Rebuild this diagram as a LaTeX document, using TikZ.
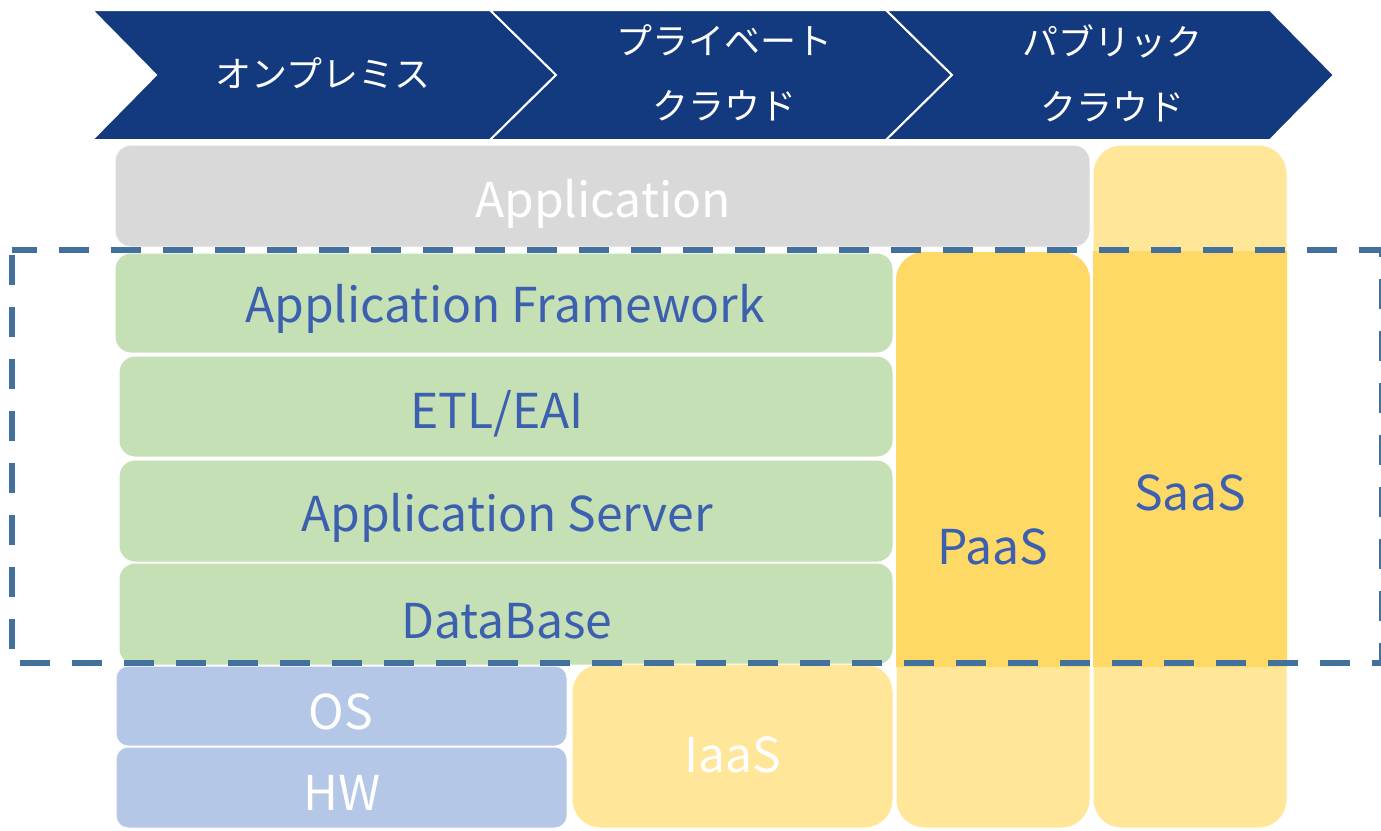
\documentclass[tikz,border=0pt]{standalone}
\usepackage{fontspec}
\setmainfont{Noto Sans CJK JP}
\definecolor{navy}{RGB}{19,57,126}
\definecolor{graybox}{RGB}{217,217,217}
\definecolor{greenbox}{RGB}{197,224,180}
\definecolor{bluebox}{RGB}{180,199,231}
\definecolor{ylight}{RGB}{255,230,153}
\definecolor{ydark}{RGB}{255,217,102}
\definecolor{dashc}{RGB}{65,113,156}
\definecolor{txtblue}{RGB}{60,96,175}
\tikzset{
  chev/.style={fill=navy, draw=white, line width=2pt, line join=miter},
  chevtext/.style={text=white, font=\fontsize{36}{65}\selectfont, align=center, inner sep=0pt},
  lay/.style={rounded corners=#1, inner sep=0pt, draw=white, line width=1pt},
  big/.style={font=\fontsize{48}{58}\selectfont},
  green layer/.style={lay=16, fill=greenbox},
  blue layer/.style={lay=12, fill=bluebox},
  labelblue/.style={text=txtblue, big, inner sep=0pt},
  labelwhite/.style={text=white, big, inner sep=0pt},
  boundary/.style={draw=dashc, line width=6pt, dash pattern=on 30pt off 22pt, dash phase=-5pt}
}
\begin{document}
\begin{tikzpicture}[x=1pt,y=-1pt]
\useasboundingbox (0,0) rectangle (1381,830);
% chevrons
\path[chev] (92,10) -- (490,10) -- (556,75) -- (490,140) -- (92,140) -- (156,75) -- cycle;
\path[chev] (490,10) -- (886,10) -- (952,75) -- (886,140) -- (490,140) -- (556,75) -- cycle;
\path[chev] (886,10) -- (1270,10) -- (1334,75) -- (1270,140) -- (886,140) -- (952,75) -- cycle;
\node[chevtext] (onp) at (323,73) {オンプレミス};
\node[chevtext] (prv) at (724,73) {プライベート\\クラウド};
\node[chevtext] (pub) at (1112,73) {パブリック\\クラウド};
% application
\node[lay=16, fill=graybox, minimum width=975pt, minimum height=102pt] (app) at (602.5,196) {};
\node[labelwhite] (appt) at (603,204) {Application};
% SaaS and PaaS columns
\node[lay=28, fill=ylight, minimum width=194pt, minimum height=683pt] (saas) at (1190,486.5) {};
\node[lay=28, fill=ylight, minimum width=194pt, minimum height=576pt] (paas) at (993,540) {};
\begin{scope}
  \clip (0,251) rectangle (1381,666);
  \fill[ydark, rounded corners=28] (1093,145) rectangle (1287,828);
  \fill[ydark, rounded corners=28] (896,252) rectangle (1090,828);
\end{scope}
\node[labelblue] (saast) at (1190,493) {SaaS};
\node[labelblue] (paast) at (993,547) {PaaS};
% green layers
\node[green layer, minimum width=778pt, minimum height=100pt] (af) at (504,303) {};
\node[green layer, minimum width=774pt, minimum height=101pt] (etl) at (506,406.5) {};
\node[green layer, minimum width=774pt, minimum height=102pt] (as) at (506,511) {};
\node[green layer, minimum width=774pt, minimum height=102pt] (db) at (506,614) {};
\node[labelblue] (aft) at (505,309) {Application Framework};
\node[labelblue] (etlt) at (497,414) {ETL/EAI};
\node[labelblue] (ast) at (507,518) {Application Server};
\node[labelblue] (dbt) at (507,621) {DataBase};
% bottom layers
\node[blue layer, minimum width=451pt, minimum height=80pt] (os) at (341.5,706) {};
\node[blue layer, minimum width=451pt, minimum height=81pt] (hw) at (341.5,787.5) {};
\node[lay=28, fill=ylight, minimum width=321pt, minimum height=164pt] (iaas) at (732.5,746) {};
\node[labelwhite] (ost) at (341,712) {OS};
\node[labelwhite] (hwt) at (342,793) {HW};
\node[labelwhite] (iaast) at (733,755) {IaaS};
% dashed boundary
\draw[boundary] (12,250) rectangle (1382,663);
\end{tikzpicture}
\end{document}
